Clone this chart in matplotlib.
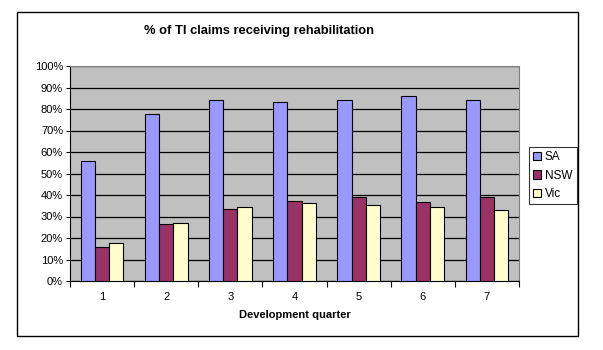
"""
Bar chart: % of TI claims receiving rehabilitation, by development quarter.
"""

import numpy as np
import matplotlib
matplotlib.use("Agg")
import matplotlib.pyplot as plt
from matplotlib.patches import Rectangle

quarters = ["1", "2", "3", "4", "5", "6", "7"]
sa = [55.7, 77.5, 84.0, 83.1, 84.3, 85.9, 84.3]
nsw = [15.7, 26.4, 33.6, 37.1, 39.1, 36.6, 39.1]
vic = [17.5, 26.8, 34.3, 36.1, 35.3, 34.4, 32.9]
series_names = ["SA", "NSW", "Vic"]
colors = ["#9999FF", "#993366", "#FFFFCC"]


def main():
    plt.rcParams["font.family"] = ["Liberation Sans", "DejaVu Sans"]
    fig = plt.figure(figsize=(6.03, 3.5), dpi=100)

    # outer chart border
    fig.patches.append(Rectangle((17 / 603, 14 / 350), 561 / 603, 324 / 350,
                                 transform=fig.transFigure, fill=False,
                                 edgecolor="black", linewidth=1.0))

    ax = fig.add_axes([70 / 603, 69 / 350, 449 / 603, 215 / 350])
    ax.set_facecolor("#C0C0C0")

    x = np.arange(len(quarters))
    width = 1 / 4.5
    handles = []
    for i, (vals, name, col) in enumerate(zip([sa, nsw, vic], series_names, colors)):
        b = ax.bar(x + (i - 1) * width, vals, width, color=col,
                   edgecolor="black", linewidth=0.8, label=name, zorder=3)
        handles.append(b)

    ax.set_xlim(-0.5, len(quarters) - 0.5)
    ax.set_ylim(0, 100)
    ax.set_yticks(np.arange(0, 101, 10))
    ax.set_yticklabels([f"{v}%" for v in range(0, 101, 10)], fontsize=8)
    ax.yaxis.grid(True, color="black", linewidth=0.9, zorder=1)
    ax.set_axisbelow(True)

    ax.set_xticks(x)
    ax.set_xticklabels(quarters, fontsize=8)
    ax.set_xticks(np.arange(-0.5, len(quarters), 1), minor=True)
    ax.tick_params(axis="x", which="major", length=0, pad=8)
    ax.tick_params(axis="x", which="minor", length=4, width=0.8, direction="out")
    ax.tick_params(axis="y", length=3, width=0.8, pad=2)

    for side in ["top", "right"]:
        ax.spines[side].set_color("#808080")
    for side in ["left", "bottom"]:
        ax.spines[side].set_color("black")

    ax.set_xlabel("Development quarter", fontsize=8, fontweight="bold", labelpad=6)

    fig.text(259 / 603, 1 - 31 / 350, "% of TI claims receiving rehabilitation",
             ha="center", va="center", fontsize=9.3, fontweight="bold")

    leg = fig.legend(handles=handles, loc="upper left",
                     bbox_to_anchor=(529 / 603, 1 - 147 / 350),
                     fontsize=8.5, frameon=True, fancybox=False,
                     handlelength=0.7, handleheight=0.7, handletextpad=0.3,
                     borderpad=0.35, labelspacing=0.55, borderaxespad=0)
    leg.get_frame().set_edgecolor("black")
    leg.get_frame().set_linewidth(0.8)

    fig.savefig("out.png", dpi=100)


if __name__ == "__main__":
    main()
